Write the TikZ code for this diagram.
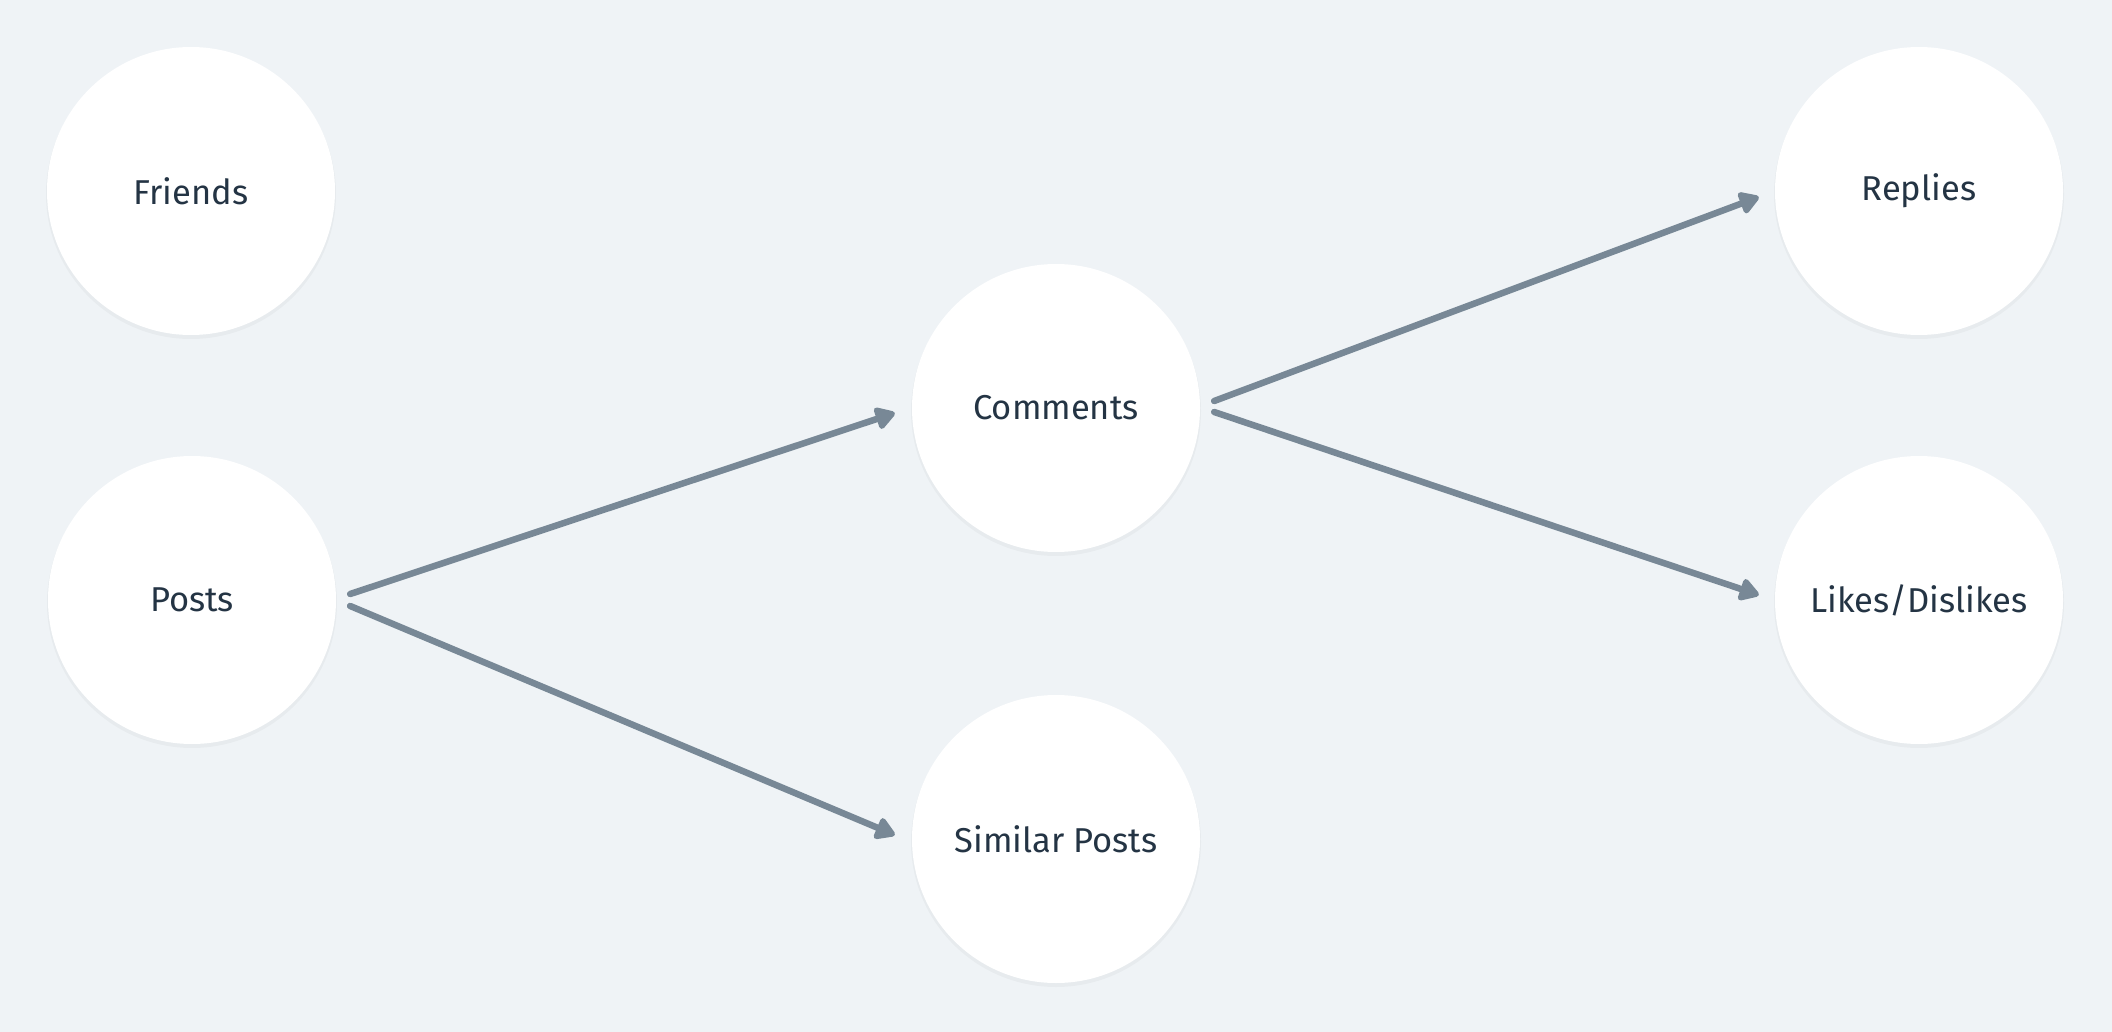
\documentclass[tikz,border=0pt]{standalone}
\usepackage{fontspec}
\setmainfont{Fira Sans}
\usetikzlibrary{arrows.meta,calc}
\definecolor{bgc}{HTML}{EFF3F6}
\definecolor{edgec}{HTML}{788896}
\definecolor{txtc}{HTML}{243444}
\tikzset{
  circ/.style={circle,minimum size=288pt,inner sep=0pt,fill=white,text=txtc,
    font=\fontsize{34.5}{40}\selectfont},
  shad/.style={fill=black,opacity=0.03},
  edge/.style={draw=edgec,line width=6.5pt,line cap=round,
    -{Triangle[length=22pt,width=25pt,round]}}
}
\begin{document}
\begin{tikzpicture}[x=1pt,y=-1pt]
\fill[bgc] (0,0) rectangle (2112,1032);
\useasboundingbox (0,0) rectangle (2112,1032);
\foreach \px/\py in {191/191,192/600,1056/408,1056/839,1919/191,1919/600}{
  \fill[shad] (\px,\py+3) circle (145pt);
}
\node[circ] (friends) at (191,191) {Friends};
\node[circ] (posts) at (192,600) {Posts};
\node[circ] (comments) at (1056,408) {Comments};
\node[circ] (similar) at (1056,839) {Similar Posts};
\node[circ] (replies) at (1919,191) {Replies};
\node[circ] (likes) at (1919,600) {Likes/Dislikes};
\draw[edge] ([shift={(14,-6)}]posts.east) -- ([shift={(-17,5)}]comments.west);
\draw[edge] ([shift={(14,6)}]posts.east) -- ([shift={(-17,-4)}]similar.west);
\draw[edge] ([shift={(14,-7)}]comments.east) -- ([shift={(-16,6)}]replies.west);
\draw[edge] ([shift={(14,4)}]comments.east) -- ([shift={(-16,-5)}]likes.west);
\end{tikzpicture}
\end{document}
